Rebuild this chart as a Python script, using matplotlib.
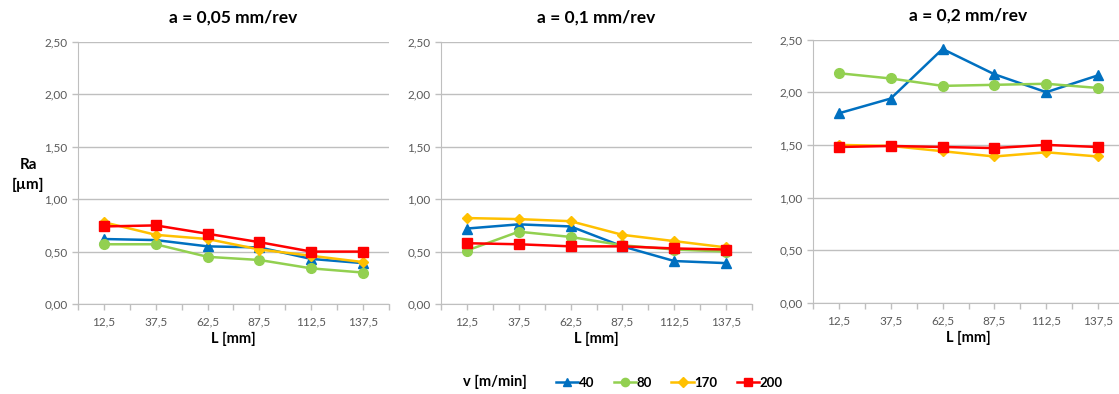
import matplotlib.pyplot as plt
from matplotlib.lines import Line2D

plt.rcParams['font.family'] = ['Lato', 'DejaVu Sans']

L = ["12,5", "37,5", "62,5", "87,5", "112,5", "137,5"]
speeds = ["40", "80", "170", "200"]
titles = ["a = 0,05 mm/rev", "a = 0,1 mm/rev", "a = 0,2 mm/rev"]

# Ra values per feed, per cutting speed
ra_005 = {
    "40": [0.62, 0.61, 0.55, 0.54, 0.43, 0.39],
    "80": [0.57, 0.57, 0.45, 0.42, 0.34, 0.30],
    "170": [0.78, 0.66, 0.62, 0.52, 0.46, 0.40],
    "200": [0.74, 0.75, 0.67, 0.59, 0.50, 0.50],
}
ra_01 = {
    "40": [0.72, 0.76, 0.74, 0.55, 0.41, 0.39],
    "80": [0.51, 0.69, 0.64, 0.56, 0.52, 0.50],
    "170": [0.82, 0.81, 0.79, 0.66, 0.60, 0.54],
    "200": [0.58, 0.57, 0.55, 0.55, 0.53, 0.52],
}
ra_02 = {
    "40": [1.80, 1.94, 2.41, 2.17, 2.00, 2.16],
    "80": [2.18, 2.13, 2.06, 2.07, 2.08, 2.04],
    "170": [1.50, 1.49, 1.44, 1.39, 1.43, 1.39],
    "200": [1.48, 1.49, 1.48, 1.47, 1.50, 1.48],
}
panels = [ra_005, ra_01, ra_02]

colors = {"40": "#0070C0", "80": "#92D050", "170": "#FFC000", "200": "#FF0000"}
markers = {"40": "^", "80": "o", "170": "D", "200": "s"}
msizes = {"40": 7, "80": 7, "170": 5.5, "200": 7.5}
tick_color = "#595959"
grid_color = "#BFBFBF"

fig = plt.figure(figsize=(11.19, 3.94), dpi=100)

lefts = [78, 441, 813]
bottoms = [304, 304, 303]
tops = [42, 42, 39.5]
W, H = 1119, 394

x = list(range(len(L)))
for i, data in enumerate(panels):
    ax = fig.add_axes([lefts[i] / W, 1 - bottoms[i] / H, 311 / W,
                       (bottoms[i] - tops[i]) / H])
    for v in speeds:
        ax.plot(x, data[v], color=colors[v], marker=markers[v],
                markersize=msizes[v], linewidth=1.8, zorder=3)
    ax.set_xlim(-0.5, len(L) - 0.5)
    ax.set_ylim(0, 2.5)
    ax.set_yticks([0, 0.5, 1.0, 1.5, 2.0, 2.5])
    ax.set_yticklabels(["0,00", "0,50", "1,00", "1,50", "2,00", "2,50"])
    ax.set_xticks(x)
    ax.set_xticklabels(L)
    ax.set_xticks([k - 0.5 for k in range(len(L) + 1)], minor=True)
    ax.grid(axis='y', color=grid_color, linewidth=1)
    ax.set_axisbelow(True)
    for s in ['top', 'right']:
        ax.spines[s].set_visible(False)
    for s in ['left', 'bottom']:
        ax.spines[s].set_color(grid_color)
    ax.tick_params(axis='both', which='both', colors=grid_color,
                   labelcolor=tick_color, labelsize=8.5, length=4, width=1)
    ax.tick_params(axis='x', which='major', pad=5)
    ax.set_title(titles[i], fontsize=12.5, fontweight='bold', pad=14)
    ax.set_xlabel("L [mm]", fontsize=10.5, fontweight='bold', labelpad=3)

fig.text(28 / W, 1 - 175 / H, "Ra\n[µm]", fontsize=11, fontweight='bold',
         ha='center', va='center', linespacing=1.45)

handles = [Line2D([0], [0], color=colors[v], marker=markers[v],
                  markersize=msizes[v] * 0.85, linewidth=1.8) for v in speeds]
fig.text(495 / W, 1 - 382 / H, "v [m/min]", fontsize=10.5, fontweight='bold',
         ha='center', va='center')
fig.legend(handles, speeds, loc='center left', ncol=4, frameon=False,
           bbox_to_anchor=(556 / W, 1 - 383 / H),
           handlelength=1.7, handletextpad=0.0, columnspacing=1.5,
           borderaxespad=0, borderpad=0,
           prop={'weight': 'bold', 'size': 9.5})

fig.savefig("out.png", dpi=100)
